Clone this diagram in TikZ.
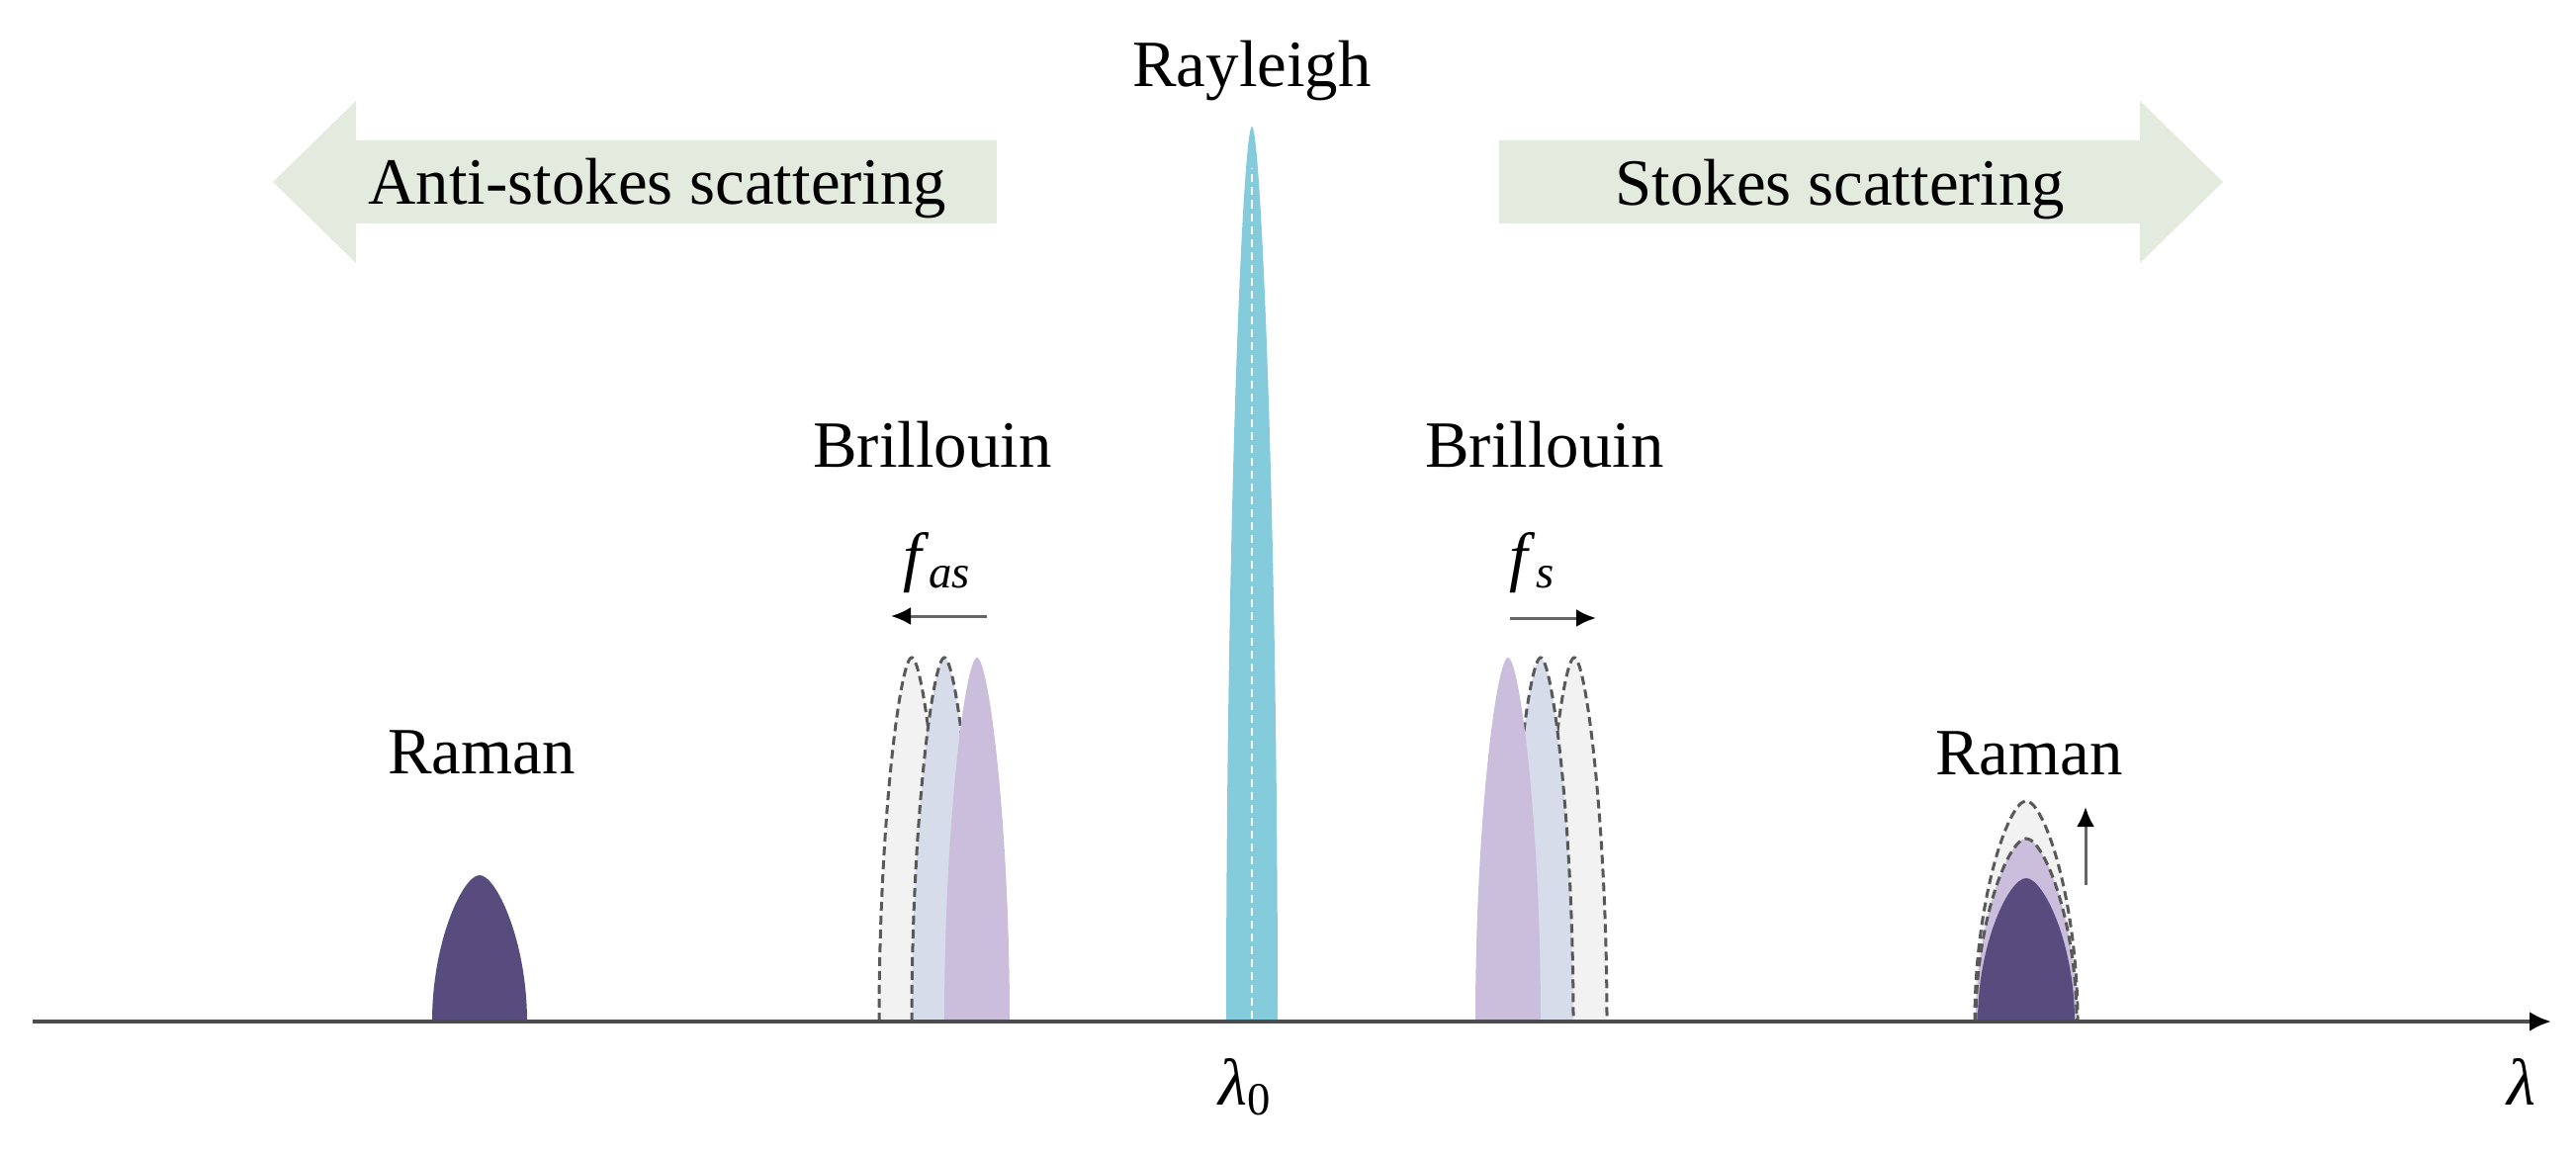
\documentclass[tikz,border=0pt]{standalone}
\usepackage{fontspec}
\setmainfont{Liberation Serif}
\usepackage{xcolor}
\usepackage{tikz}
\usetikzlibrary{arrows.meta}

\definecolor{raylblue}{RGB}{132,203,220}
\definecolor{darkviolet}{RGB}{88,75,126}
\definecolor{lavender}{RGB}{202,190,220}
\definecolor{bluegray}{RGB}{214,220,233}
\definecolor{palegray}{RGB}{242,242,242}
\definecolor{sage}{RGB}{226,235,222}

\tikzset{
  pics/peak/.style 2 args={code={
    \path[pic actions] (-#1,0) .. controls (-#1,{-0.55*#2}) and ({-0.35*#1},-#2) .. (0,-#2)
      .. controls ({0.35*#1},-#2) and (#1,{-0.55*#2}) .. (#1,0) -- cycle;
  }}
}

\begin{document}
\begin{tikzpicture}[
    x=0.01cm, y=-0.01cm,
    lbl/.style={font=\fontsize{19}{22}\selectfont, inner sep=0pt, anchor=base},
    shifted/.style={draw=black!65, line width=0.03cm, dash pattern=on 0.09cm off 0.05cm},
    axis/.style={-{Latex[length=0.22cm, width=0.2cm, color=black]}, line width=0.04cm, draw=black!70},
    shift arrow/.style={-{Latex[length=0.2cm, width=0.18cm, color=black]}, line width=0.03cm, draw=black!60},
]
\useasboundingbox (0,0) rectangle (2605,1170);

% scattering direction arrows
\fill[sage] (1008,142) -- (360,142) -- (360,102) -- (276,184) -- (360,266) -- (360,226) -- (1008,226) -- cycle;
\fill[sage] (1516,142) -- (2164,142) -- (2164,102) -- (2248,184) -- (2164,266) -- (2164,226) -- (1516,226) -- cycle;
\node[lbl] (anti) at (665,207) {Anti-stokes scattering};
\node[lbl] (stokes) at (1861,208) {Stokes scattering};

% Rayleigh line
\fill[raylblue] (1240,1033) .. controls (1240,520) and (1257,128) .. (1266,128)
  .. controls (1275,128) and (1292,520) .. (1292,1033) -- cycle;
\draw[white, line width=0.02cm, dash pattern=on 0.08cm off 0.05cm] (1266,1030) -- (1266,170);
\node[lbl] (ray) at (1266,88) {Rayleigh};

% Brillouin, anti-stokes side
\pic[fill=palegray, shifted] at (922,1033) {peak={33}{368}};
\pic[fill=bluegray, shifted] at (955,1033) {peak={33}{368}};
\pic[fill=lavender] at (988,1033) {peak={33}{368}};
\node[lbl] (bril1) at (943,472) {Brillouin};
\node[lbl] (fas) at (948,585) {\textit{f}\textsubscript{\textit{as}}};
\coordinate (fas0) at (998,623);
\coordinate (fas1) at (901,623);
\draw[shift arrow] (fas0) -- (fas1);

% Brillouin, stokes side
\pic[fill=palegray, shifted] at (1592,1033) {peak={33}{368}};
\pic[fill=bluegray, shifted] at (1558,1033) {peak={33}{368}};
\pic[fill=lavender] at (1525,1033) {peak={33}{368}};
\node[lbl] (bril2) at (1562,472) {Brillouin};
\node[lbl] (fs) at (1550,585) {\textit{f}\textsubscript{\textit{s}}};
\coordinate (fs0) at (1527,625);
\coordinate (fs1) at (1614,625);
\draw[shift arrow] (fs0) -- (fs1);

% Raman peaks
\pic[fill=darkviolet] at (485,1033) {peak={48}{148}};
\node[lbl] (ram1) at (487,782) {Raman};
\pic[fill=palegray, shifted] at (2049,1033) {peak={52}{223}};
\pic[fill=lavender, shifted] at (2049,1033) {peak={51}{185}};
\pic[fill=darkviolet] at (2049,1033) {peak={49}{145}};
\node[lbl] (ram2) at (2052,783) {Raman};
\coordinate (up0) at (2109,895);
\coordinate (up1) at (2109,816);
\draw[shift arrow] (up0) -- (up1);

% wavelength axis
\coordinate (ax0) at (33,1033);
\coordinate (ax1) at (2580,1033);
\draw[axis] (ax0) -- (ax1);
\node[lbl] (lam0) at (1260,1117) {\textit{λ}\textsubscript{0}};
\node[lbl] (lam) at (2550,1117) {\textit{λ}};

\end{tikzpicture}
\end{document}
